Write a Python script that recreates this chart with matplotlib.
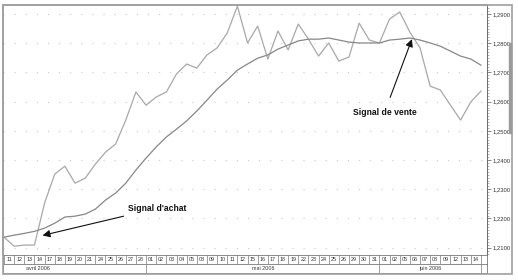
import numpy as np
import matplotlib.pyplot as plt
from matplotlib.patches import Rectangle
from matplotlib.ticker import MultipleLocator, FuncFormatter

# cours (cloture) et moyenne mobile, un point par seance
cours = [1.2136, 1.2105, 1.2109, 1.2109, 1.2253, 1.2352, 1.2379, 1.2321, 1.2338, 1.2386,
         1.2427, 1.2455, 1.2537, 1.2633, 1.2588, 1.2616, 1.2633, 1.2695, 1.2729, 1.2715,
         1.2760, 1.2784, 1.2835, 1.2927, 1.2801, 1.2859, 1.2746, 1.2842, 1.2777, 1.2866,
         1.2814, 1.2756, 1.2801, 1.2739, 1.2753, 1.2869, 1.2811, 1.2801, 1.2883, 1.2907,
         1.2838, 1.2784, 1.2653, 1.2640, 1.2588, 1.2537, 1.2599, 1.2636]
moyenne = [1.2136, 1.2143, 1.2149, 1.2156, 1.2167, 1.2184, 1.2205, 1.2208, 1.2215, 1.2232,
           1.2263, 1.2287, 1.2321, 1.2366, 1.2407, 1.2445, 1.2479, 1.2506, 1.2534, 1.2568,
           1.2605, 1.2643, 1.2674, 1.2708, 1.2729, 1.2749, 1.2760, 1.2780, 1.2794, 1.2808,
           1.2814, 1.2814, 1.2818, 1.2811, 1.2804, 1.2801, 1.2801, 1.2801, 1.2811, 1.2814,
           1.2818, 1.2811, 1.2801, 1.2790, 1.2773, 1.2756, 1.2746, 1.2725]

jours = ['11', '12', '13', '14', '17', '18', '19', '20', '21', '24', '25', '26', '27', '28',
         '01', '02', '03', '04', '05', '08', '09', '10', '11', '12', '15', '16', '17', '18',
         '19', '22', '23', '24', '25', '26', '29', '30', '31',
         '01', '02', '05', '06', '07', '08', '09', '12', '13', '14']
mois = ['avril 2006', 'mai 2006', 'juin 2006']
mois_debut = [0, 14, 37]
mois_label_x = [3.3, 25.5, 42]

achat = (3.8, 1.2142)
vente = (40.2, 1.2814)

W, H = 518, 280
fig = plt.figure(figsize=(W / 100, H / 100), dpi=100)
fam = ['Liberation Sans Narrow', 'Liberation Sans', 'DejaVu Sans']

def px(l, t, r, b):
    return [l / W, 1 - b / H, (r - l) / W, (b - t) / H]

xlim = (-0.1, 47.6)
ax = fig.add_axes(px(3, 5, 487, 255))
x = np.arange(len(cours))
ax.plot(x, cours, color='#a8a8a8', lw=0.9, zorder=3)
ax.plot(x, moyenne, color='#878787', lw=0.9, zorder=3)
ax.set_xlim(*xlim)
ax.set_ylim(1.2075, 1.2931)
ax.set_xticks([])
ax.yaxis.tick_right()
ax.yaxis.set_major_locator(MultipleLocator(0.01))
ax.yaxis.set_minor_locator(MultipleLocator(0.001))
ax.yaxis.set_major_formatter(FuncFormatter(lambda v, p: ('%.4f' % v).replace('.', ',')))
ax.tick_params(axis='y', which='major', labelsize=4.2, length=3, width=0.5, color='#555555', pad=1, labelcolor='#333333')
ax.tick_params(axis='y', which='minor', length=1.5, width=0.4, color='#777777')
for lab in ax.get_yticklabels():
    lab.set_family(fam)
ax.grid(axis='y', color='#c8c8c8', linestyle=(0, (1, 9)), lw=0.8)
for s in ['top', 'left']:
    ax.spines[s].set_color('#a0a0a0')
    ax.spines[s].set_linewidth(1.2)
ax.spines['right'].set_color('#555555')
ax.spines['right'].set_linewidth(0.6)
ax.spines['bottom'].set_color('#777777')
ax.spines['bottom'].set_linewidth(0.6)

ax.annotate("Signal d'achat", xy=achat, xytext=(12.2, 1.2235), family=fam, fontweight='bold',
            fontsize=6.2, va='center', ha='left', color='#111111',
            arrowprops=dict(arrowstyle='-|>', color='#111111', lw=0.8, mutation_scale=11,
                            shrinkA=2, shrinkB=0))
ax.annotate("Signal de vente", xy=vente, xytext=(37.5, 1.2563), family=fam, fontweight='bold',
            fontsize=6.2, va='center', ha='center', color='#111111',
            arrowprops=dict(arrowstyle='-|>', color='#111111', lw=0.8, mutation_scale=11,
                            shrinkA=6, shrinkB=0))

# ligne des jours
axd = fig.add_axes(px(3, 255, 487, 264))
axd.set_xlim(*xlim)
axd.set_ylim(0, 1)
axd.vlines(np.arange(len(jours) + 1), 0, 1, color='#777777', lw=0.5)
for j, d in enumerate(jours):
    axd.text(j + 0.5, 0.45, d, fontsize=3.9, ha='center', va='center', color='#333333', family=fam)
axd.set_xticks([])
axd.set_yticks([])
for s in axd.spines.values():
    s.set_color('#777777')
    s.set_linewidth(0.6)

# ligne des mois
axm = fig.add_axes(px(3, 264, 487, 273))
axm.set_xlim(*xlim)
axm.set_ylim(0, 1)
axm.vlines(mois_debut[1:] + [len(jours)], 0, 1, color='#777777', lw=0.5)
for m, mx in zip(mois, mois_label_x):
    axm.text(mx, 0.5, m, fontsize=3.9, ha='center', va='center', color='#333333', family=fam)
axm.set_xticks([])
axm.set_yticks([])
for s in axm.spines.values():
    s.set_color('#777777')
    s.set_linewidth(0.6)

# cadre exterieur et barre de defilement
fig.patches.append(Rectangle((3 / W, 1 - 274 / H), 509 / W, 269 / H, transform=fig.transFigure,
                             fill=False, edgecolor='#a0a0a0', lw=1.2))
fig.patches.append(Rectangle((509 / W, 1 - 133 / H), 2 / W, 90 / H, transform=fig.transFigure,
                             color='#9a9a9a'))

fig.savefig('out.png', dpi=100)
